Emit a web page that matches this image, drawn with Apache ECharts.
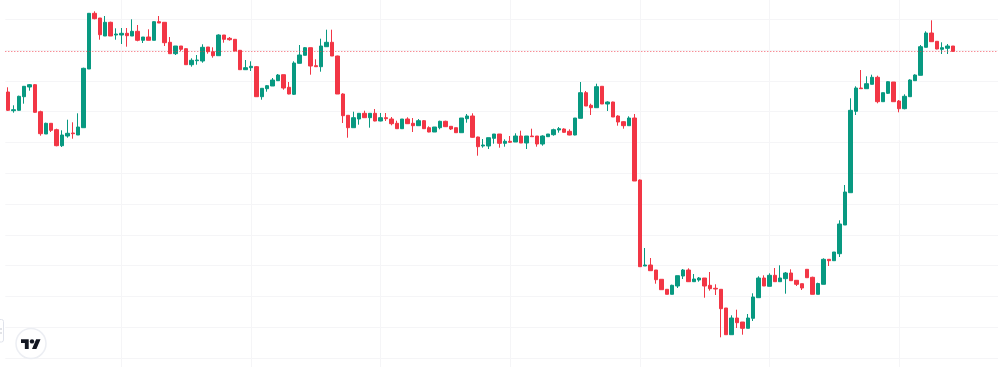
<!DOCTYPE html>
<html>
<head>
<meta charset="utf-8">
<style>html,body{margin:0;padding:0;background:#fff}#c{width:998px;height:367px}</style>
<script src="https://cdn.jsdelivr.net/npm/echarts@6/dist/echarts.min.js"></script>
</head>
<body>
<div id="c"></div>
<script>
const opens = [
266,247.3,247.7,261.3,271,273.3,246.3,224,234.7,228.3,
212.3,222,225,223,230.3,289,344.7,340,322,335.7,
323,323,324.7,322,326.7,317.7,321,317.7,336.3,335.7,
315.7,304.3,312,309.3,293.3,297.3,297,311,306.3,302.3,
323,319.7,318.7,307.7,288.3,290.3,291.3,261.3,269.3,272,
277.3,283.3,270.7,263.7,294.7,302.7,310.3,292.3,291.3,311.3,
315.7,302,264,242.7,230.3,239,244.7,240.3,244.7,237,
240.3,239,234.7,229.3,239,234.7,232.3,237.3,230.3,226,
230.3,236.7,231.7,230.3,225.3,239.3,242,221,212,212,
219.7,224,214.7,216.7,216,222,215,222,222,214,
221.3,223.3,228,229,226.7,223,239.7,265.3,252.7,250.3,
271.7,254,256,242,236.3,232.3,240,178,92,93,
88,78.7,68.7,63.7,72,82,88,76.3,78,80,
72.7,69.7,68.7,50,23.3,40,36,29.7,39.7,60.3,
80,71.7,82.7,76.3,79.3,85,77.7,74.3,88.7,80.7,
63.7,73.7,98.7,97.3,104.3,133,165.3,246.7,270,269.3,
273.7,280.7,256.3,264.7,276,257,249.3,261.3,277.3,282.7,
310.7,325,316.7,308.7,309.7,312];
const closes = [
247.7,248.3,261.7,271.7,273.3,245.7,224.3,234.7,227.7,212.3,
223,224.7,224.3,231,289.7,344.7,339.3,323.3,335.7,322,
324,324.7,322.3,326.7,317.7,321,317.7,336.3,335,315.3,
304.3,312,308.7,293.3,297.7,298,310.7,306.3,302.3,323,
318.7,318.3,307,288.3,290.3,291.7,261.3,269.7,272.3,278,
283,270,264,295,303,310.3,292,291.3,312,315.7,
302,264,242.3,230.3,240.3,244.7,240.3,244.7,237,240.3,
239.3,234.3,229.3,239,234.3,232.3,237.3,229.3,226,231,
236.7,231.3,229,225.3,240,242,220.7,211.3,213,220.3,
224,214.7,216.7,215.7,222,215,222,221.3,214,222,
224,228.3,229.3,225.7,223,240,265.3,252,250.3,271.3,
254,256,241,236,232.3,240,177,91.3,93,87.3,
78.3,68.3,63.7,72.7,82.3,88,76.3,79,80,72,
69.3,69,49.3,23.3,40,35.3,29.7,40,61,80,
72,82.7,76.3,80,85,77.3,73.7,70,80.3,63.7,
74.5,98.7,97.3,106,134,166,247.7,270,269.3,274.3,
280.7,256.3,265.3,276.3,256.3,249.3,261.7,278,283,311.3,
325,316.3,309,310.3,312,306.7];
const lows = [
247,245.3,247.3,254.3,267.3,245.3,222.3,224,226,211.7,
211,220.3,219.3,223,230.3,289,338.7,318.3,322,322,
318.3,314,311.3,322,316.7,315,317.7,317.7,335,312,
304.3,303,306.7,293.3,291.3,293.3,295.3,304.3,300.3,302.3,
315.3,317.3,306.7,288.3,288.3,287,261.3,258.3,266.3,272,
277,268.3,263.7,263,294.7,302.7,283.3,291.3,286.3,311.3,
302,264,235,220.3,230.3,233.3,240.3,230.3,236.7,236.7,
237,232.7,229,229,234,226,232.3,229,225.7,226,
228.7,231,228,225,225.3,235.3,220.3,202.3,210.3,209,
214.3,210.3,211.3,215.3,216,215,209,221.3,211.3,212.3,
221,222.3,225.3,225.3,222.7,222.7,239.7,252,243,250.3,
254,247,241,232.3,229.3,232.3,177,91.3,92,87.3,
74.3,68.3,63.7,63.7,70,79,76,76,76.3,60.3,
67.3,63,20.7,23.3,23.3,30,23.3,29.7,37,60.3,
72,71.7,76.3,76.3,64.3,77,72,68,80.3,63.7,
63.7,73.7,92,97.3,101,133,165.3,243,269.3,269.3,
273.7,254.7,256.3,264,256.3,245.7,248.7,261.3,277.3,282.7,
310.7,316.3,308.7,304,304,306.3];
const highs = [
270.7,252.7,262.3,272,274,274,247.3,235.3,235,229.3,
227.7,238.3,235.7,244.7,290.3,345,346.7,340,342,336.3,
329.7,330,330,338.7,333,321,328.7,336.7,342,336,
321,312,312,309.7,299.7,303,313.7,311,310.7,323.7,
323,321,319,308,298,296.7,292,269.7,273,280,
284,283.3,276,296.7,313,311,310.3,298.7,319.3,328.3,
328.3,302.3,264.7,242.7,246.3,244.7,247.3,244.7,249,245,
245,241,237.3,239,240.7,240,239,238,231.7,231,
237.3,237.3,232,230.3,240,244,244.7,221.3,219,220.3,
224,224,218.7,222,224.7,227.3,222,229.3,222,222.7,
224,229.3,231,229.7,228.7,240,276,267,254.3,274.3,
271.7,256.7,256.3,242.7,236.7,241.7,244,178.5,110,100,
88,78.7,68.7,73.3,82.3,89,89.7,84,81,80,
86,73.7,68.7,50,42.7,48.3,36,44,64.7,81.7,
82.7,84.7,90,92.7,86,88.7,77.7,74.3,88.7,81.3,
75.3,99.7,98.7,106,137.7,173,259.7,271.7,288,281.7,
283.3,282.3,265.3,276.7,276,258,263.7,278.7,283.7,313,
326.7,337.7,316.7,315.7,314,312];
const sessionStarts = ['21','45','69','93','117','141','165'];
const slotCount = 184;
const categories = Array.from({length: slotCount}, (_, i) => String(i));
const lastPrice = closes[closes.length - 1];
const candles = opens.map((o, i) => [o, closes[i], lows[i], highs[i]]);

const chart = echarts.init(document.getElementById('c'), null, {renderer: 'canvas'});
chart.setOption({
  animation: false,
  tooltip: {show: false},
  grid: {left: 5.3, right: -0.9, top: -11.6, bottom: -21.8, containLabel: false, show: false, outerBoundsMode: 'none'},
  xAxis: {
    type: 'category', data: categories, boundaryGap: true,
    axisLine: {show: false}, axisTick: {show: false}, axisLabel: {show: false}, splitLine: {show: false}
  },
  yAxis: {
    type: 'value', min: -30.8, max: 369.6, interval: 30.8, scale: false,
    axisLine: {show: false}, axisTick: {show: false}, axisLabel: {show: false},
    splitLine: {show: true, lineStyle: {color: '#f5f5f7', width: 1}}
  },
  series: [{
    type: 'candlestick',
    data: candles,
    barWidth: 4,
    z: 3,
    itemStyle: {color: '#089981', color0: '#F23645', borderColor: '#089981', borderColor0: '#F23645', borderWidth: 1},
    markLine: {
      silent: true, z: 1, symbol: 'none', label: {show: false},
      lineStyle: {color: '#f5f5f7', width: 1, type: 'solid'},
      data: sessionStarts.map(s => ({xAxis: s}))
    }
  }, {
    type: 'line',
    data: [],
    markLine: {
      silent: true, z: 6, symbol: 'none', label: {show: false},
      lineStyle: {color: '#F23645', width: 1, type: [1, 2], opacity: 0.8},
      data: [{yAxis: lastPrice}]
    }
  }],
  graphic: [
    {type: 'rect', z: 20, shape: {x: -6, y: 319.5, width: 9.5, height: 22.5, r: 2},
     style: {fill: '#fff', stroke: '#e0e3eb', lineWidth: 1}},
    {type: 'circle', z: 20, shape: {cx: 1, cy: 329, r: 0.7}, style: {fill: '#b2b5be'}},
    {type: 'circle', z: 20, shape: {cx: 1, cy: 333, r: 0.7}, style: {fill: '#b2b5be'}},
    {type: 'circle', z: 20, shape: {cx: 31, cy: 343.5, r: 15}, style: {fill: '#fff', stroke: '#eceef3', lineWidth: 1.5}},
    {type: 'group', x: 21, y: 337, scaleX: 0.55, scaleY: 0.55, z: 21, children: [
      {type: 'polygon', z: 21, shape: {points: [[0,4],[14,4],[14,22],[7,22],[7,11],[0,11]]}, style: {fill: '#131722'}},
      {type: 'polygon', z: 21, shape: {points: [[20,22],[28,22],[35.5,4],[27.5,4]]}, style: {fill: '#131722'}},
      {type: 'circle', z: 21, shape: {cx: 20, cy: 8, r: 4}, style: {fill: '#131722'}}
    ]}
  ]
});
</script>
</body>
</html>
